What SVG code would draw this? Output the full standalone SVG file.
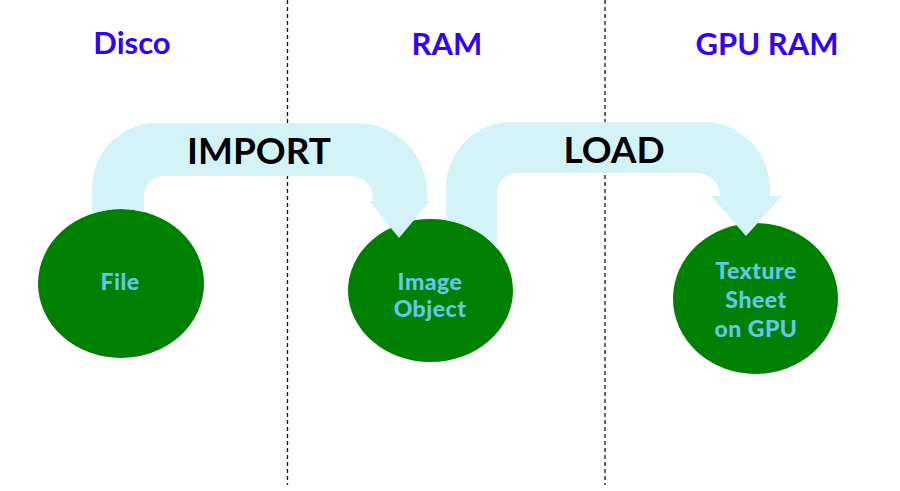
<svg xmlns="http://www.w3.org/2000/svg" width="900" height="491" viewBox="0 0 900 491">
<style>
.head{font-family:Lato,"Liberation Sans",sans-serif;font-weight:bold;font-size:31px;fill:#3300ff;text-anchor:middle}
.lbl{font-family:Lato,"Liberation Sans",sans-serif;font-weight:bold;font-size:37px;fill:#000;text-anchor:middle}
.nt{font-family:Lato,"Liberation Sans",sans-serif;font-weight:900;font-size:23px;fill:#63c7ec;text-anchor:middle;letter-spacing:0.5px}
.node{fill:#008000}
.arrow{fill:#d4f3f6}
.div{stroke:#111;stroke-width:1.3;stroke-dasharray:4 3;fill:none}
</style>
<rect width="900" height="491" fill="#fff"/>
<g id="dividers">
<line class="div" x1="287.5" y1="0" x2="287.5" y2="485"/>
<line class="div" x1="605" y1="0" x2="605" y2="485"/>
</g>
<g id="headings">
<text class="head" x="132" y="54">Disco</text>
<text class="head" x="447" y="55">RAM</text>
<text class="head" x="767" y="55">GPU RAM</text>
</g>
<g id="node-file">
<ellipse class="node" cx="121" cy="283.5" rx="83" ry="74.5"/>
<text class="nt" x="120" y="290">File</text>
</g>
<g id="node-image">
<ellipse class="node" cx="430.5" cy="290.5" rx="82.5" ry="71.5"/>
<text class="nt" x="430" y="290">Image</text>
<text class="nt" x="430" y="317">Object</text>
</g>
<g id="node-texture">
<ellipse class="node" cx="755.5" cy="298.5" rx="82.5" ry="75.5"/>
<text class="nt" x="756" y="279">Texture</text>
<text class="nt" x="756" y="308">Sheet</text>
<text class="nt" x="756" y="337">on GPU</text>
</g>
<g id="connectors">
<path class="arrow" d="M92 213.7 L92 188 A65 65 0 0 1 157 123 L357 123 A70 70 0 0 1 427 193 L427 201 L430 201 L399 238 L369 201 L373 201 L373 198 A22 22 0 0 0 351 176 L164 176 A20 20 0 0 0 144 196 L144 211.9 A83 74.5 0 0 0 92 213.7 Z"/>
<text class="lbl" x="259" y="164">IMPORT</text>
<path class="arrow" d="M446 220.3 L446 188 A66 66 0 0 1 512 122 L703 122 A67 67 0 0 1 770 189 L770 196 L782 196 L746 236 L711 196 L720 196 A23 23 0 0 0 697 173 L517 173 A20 20 0 0 0 497 193 L497 248.2 A82.5 71.5 0 0 0 446 220.3 Z"/>
<text class="lbl" x="614" y="163">LOAD</text>
</g>
</svg>
